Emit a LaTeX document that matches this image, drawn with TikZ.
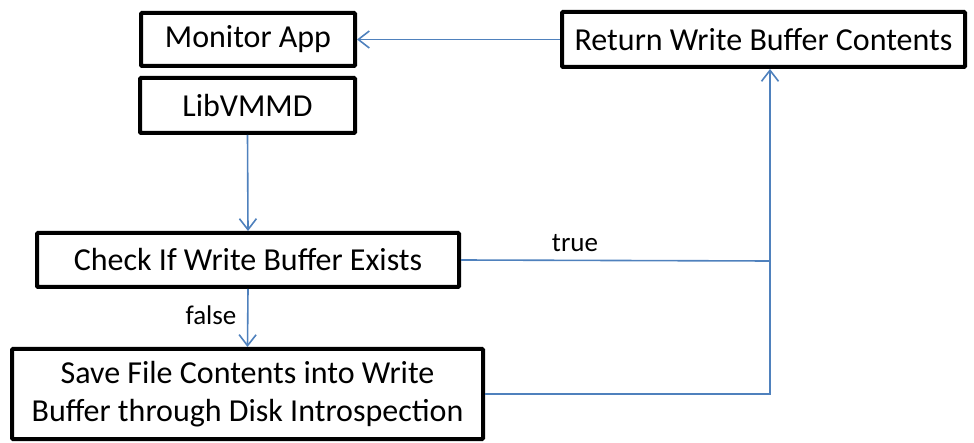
\documentclass[tikz,border=0pt]{standalone}
\usepackage{fontspec}
\setmainfont{Carlito}
\usetikzlibrary{arrows.meta}

\definecolor{flowblue}{HTML}{4F81BD}

\tikzset{
  stepbox/.style={draw=black, line width=4pt, rounded corners=1pt, inner sep=0pt,
    align=center, font=\fontsize{32}{38}\selectfont},
  flow/.style={draw=flowblue, line width=1.6pt,
    -{Straight Barb[length=11pt, width=17pt, line width=1.6pt]}},
  link/.style={draw=flowblue, line width=1.6pt},
  lbl/.style={font=\fontsize{27}{32}\selectfont, inner sep=0pt}
}

\begin{document}
\begin{tikzpicture}[x=1pt, y=-1pt]
  \useasboundingbox (0,0) rectangle (974,443);

  % process boxes
  \node[stepbox, minimum width=214pt, minimum height=53pt] (mon) at (248,39.5) {Monitor App};
  \node[stepbox, minimum width=215pt, minimum height=55pt] (lib) at (247.5,105.5) {LibVMMD};
  \node[stepbox, minimum width=403pt, minimum height=55pt] (ret) at (763.5,39.5) {Return Write Buffer Contents};
  \node[stepbox, minimum width=422pt, minimum height=54pt] (chk) at (248,260) {Check If Write Buffer Exists};
  \node[stepbox, minimum width=471pt, minimum height=90pt] (sav) at (247.5,394)
    {Save File Contents into Write\\Buffer through Disk Introspection};

  % junction on the return branch
  \coordinate (j) at (770,261);

  % connectors
  \draw[flow] (ret.west) -- (mon.east);
  \draw[flow] (lib.south) -- (chk.north);
  \draw[flow] (chk.south) -- (sav.north);
  \draw[link] (chk.east) -- (j);
  \draw[flow] (sav.east) -| (j) -- (j |- ret.south);

  % branch labels
  \node[lbl, anchor=base] (tl) at (575,252) {true};
  \node[lbl, anchor=base] (fl) at (211,325) {false};
\end{tikzpicture}
\end{document}
